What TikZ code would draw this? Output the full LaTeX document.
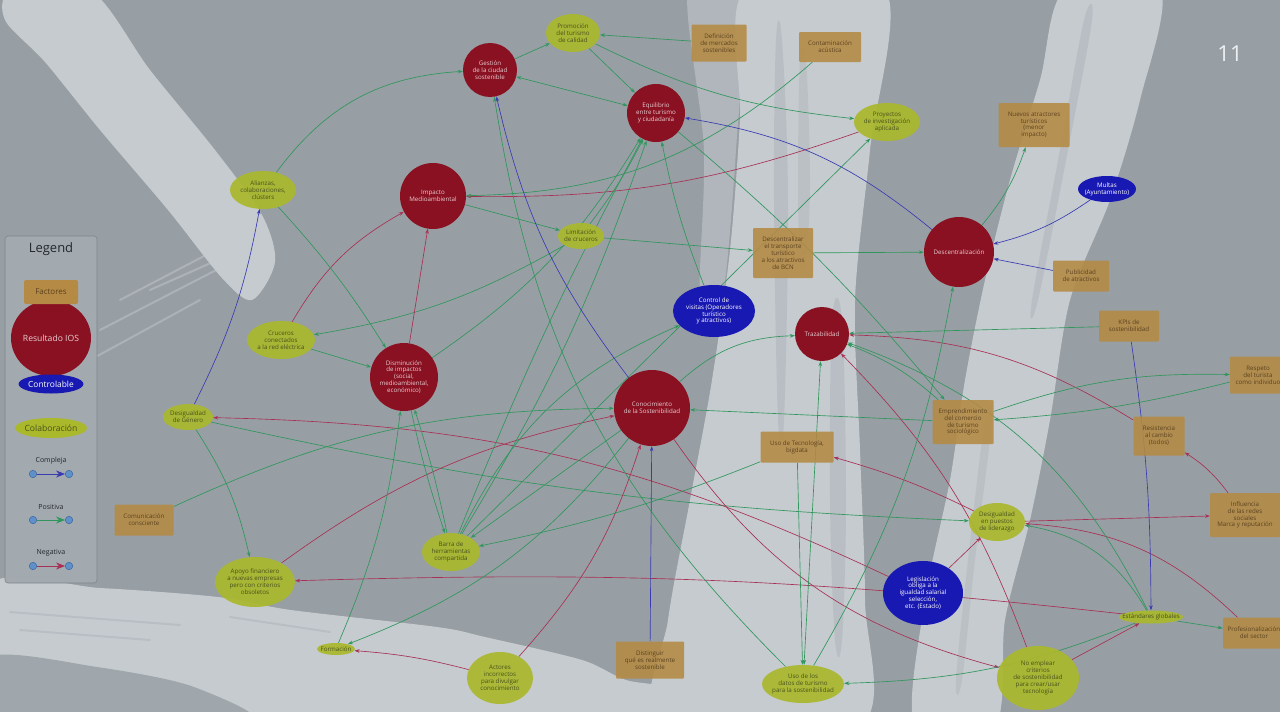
\documentclass[tikz,border=0pt]{standalone}
\usepackage{fontspec}
\setmainfont{Open Sans}
\usetikzlibrary{shapes.geometric,arrows.meta}
\pgfdeclarelayer{bgl}
\pgfdeclarelayer{edl}
\pgfsetlayers{bgl,edl,main}
\definecolor{bgc}{RGB}{152,159,164}
\definecolor{bgl2}{RGB}{160,167,172}
\definecolor{stk}{RGB}{197,203,207}
\definecolor{stkd}{RGB}{176,182,187}
\definecolor{resc}{RGB}{137,17,33}
\definecolor{restxt}{RGB}{232,205,210}
\definecolor{colc}{RGB}{170,184,44}
\definecolor{coltxt}{RGB}{72,82,28}
\definecolor{ctlc}{RGB}{24,24,178}
\definecolor{facc}{RGB}{180,138,68}
\definecolor{factxt}{RGB}{92,66,30}
\definecolor{posc}{RGB}{48,150,92}
\definecolor{negc}{RGB}{168,48,84}
\definecolor{cpxc}{RGB}{58,58,178}
\definecolor{legc}{RGB}{163,170,175}
\definecolor{legd}{RGB}{128,135,140}
\definecolor{dotc}{RGB}{95,145,200}
\definecolor{dotd}{RGB}{60,100,160}
\newcommand\ndfnt{\fontsize{6.2}{6.9}\selectfont}
\begin{document}
\begin{tikzpicture}[x=1pt,y=1pt,
  every node/.style={align=center, inner sep=0pt, font=\ndfnt},
  nres/.style={circle, fill=resc, text=restxt, inner sep=-4pt},
  ncol/.style={ellipse, fill=colc, fill opacity=0.92, text opacity=1, text=coltxt, inner xsep=-8pt, inner ysep=-4pt},
  nctl/.style={ellipse, fill=ctlc, text=white, inner xsep=-8pt, inner ysep=-4pt},
  nfac/.style={rectangle, fill=facc, fill opacity=0.88, text opacity=1, text=factxt, rounded corners=1pt},
  mytip/.style={-{Stealth[length=5pt,width=3.6pt]}},
  posl/.style={draw=posc, line width=0.65pt, mytip},
  negl/.style={draw=negc, line width=0.65pt, mytip},
  cpxl/.style={draw=cpxc, line width=0.65pt, mytip},
  twoway/.style={{Stealth[length=5pt,width=3.6pt]}-{Stealth[length=5pt,width=3.6pt]}},
  legtip/.style={-{Stealth[length=9pt,width=7pt]}, line width=0.8pt},
  dotn/.style={circle, fill=dotc, draw=dotd, line width=0.5pt, minimum size=7.5pt}
]
\useasboundingbox (0,0) rectangle (1280,-712);

\begin{pgfonlayer}{bgl}
\fill[bgc] (0,0) rectangle (1280,-712);
% top-left brush stroke
\fill[stk] plot[smooth cycle, tension=0.5] coordinates {(12,10) (90,10) (150,-70) (215,-150) (262,-215) (275,-262) (252,-300) (222,-278) (168,-210) (100,-130) (45,-62) (5,-20)};
\foreach \a/\b/\c/\d in {100/-330/255/-250, 120/-300/250/-232, 90/-360/200/-300, 150/-290/240/-250}
  \draw[stk, line width=2pt, opacity=0.45, line cap=round] (\a,\b) -- (\c,\d);
% bottom band
\fill[stk] plot[smooth cycle, tension=0.5] coordinates {(-10,-585) (100,-588) (218,-597) (291,-610) (437,-627) (485,-637) (582,-660) (626,-680) (680,-690) (720,-725) (-10,-725)};
\fill[bgl2] plot[smooth cycle, tension=0.5] coordinates {(-10,-657) (97,-667) (194,-687) (250,-725) (-10,-725)};
\foreach \a/\b/\c/\d in {10/-612/180/-625, 20/-630/150/-640, 230/-617/330/-632}
  \draw[stkd, line width=2pt, opacity=0.6, line cap=round] (\a,\b) -- (\c,\d);
% centre stroke
\fill[stkd] plot[smooth cycle, tension=0.5] coordinates {(688,10) (742,10) (736,-150) (722,-300) (700,-300) (704,-150)};
\fill[stk] plot[smooth cycle, tension=0.5] coordinates {(745,10) (885,10) (870,-150) (855,-300) (860,-450) (865,-600) (860,-725) (660,-725) (668,-620) (690,-500) (712,-380) (730,-250) (740,-120)};
\fill[stkd, opacity=0.6] plot[smooth cycle, tension=0.6] coordinates {(776,-40) (782,-40) (788,-200) (784,-420) (778,-420) (774,-200)};
\fill[stkd, opacity=0.6] plot[smooth cycle, tension=0.6] coordinates {(832,-320) (842,-320) (846,-500) (842,-640) (835,-640) (830,-500)};
\fill[stkd, opacity=0.5] plot[smooth cycle, tension=0.6] coordinates {(800,-60) (806,-60) (810,-180) (806,-260) (800,-260) (798,-180)};
% right stroke
\fill[stk] plot[smooth cycle, tension=0.5] coordinates {(1065,10) (1160,10) (1140,-100) (1110,-200) (1070,-300) (1050,-420) (1030,-520) (1005,-620) (995,-725) (915,-725) (925,-600) (950,-480) (965,-380) (985,-280) (1010,-180) (1040,-80)};
\fill[stkd, opacity=0.6] plot[smooth cycle, tension=0.6] coordinates {(1084,-20) (1092,-20) (1068,-150) (1038,-300) (1032,-300) (1060,-150)};
\fill[stkd, opacity=0.5] plot[smooth cycle, tension=0.6] coordinates {(985,-420) (992,-420) (975,-560) (962,-680) (956,-680) (968,-560)};
\end{pgfonlayer}

% ---------- legend ----------
\node[draw=legd, fill=legc, rounded corners=3pt, minimum width=92pt, minimum height=347pt, line width=0.6pt] (legbox) at (51,-409.5) {};
\node[text={rgb,255:red,35;green,40;blue,45}, font=\fontsize{13}{15}\selectfont] (legtitle) at (51,-249) {Legend};
\node[ellipse, fill=resc, minimum width=80pt, minimum height=76pt, text=restxt, font=\fontsize{8.6}{10}\selectfont] (legres) at (51,-338) {\makebox[40pt]{Resultado IOS}};
\node[rectangle, fill=facc, rounded corners=2pt, minimum width=54pt, minimum height=24pt, text=factxt, font=\fontsize{8}{9}\selectfont] (legfac) at (51,-292) {Factores};
\node[ellipse, fill=ctlc, minimum width=65pt, minimum height=19pt, text=white, font=\fontsize{8.4}{9}\selectfont] (legctl) at (51,-384) {\makebox[40pt]{Controlable}};
\node[ellipse, fill=colc, minimum width=72pt, minimum height=20pt, text=coltxt, font=\fontsize{8.6}{9}\selectfont] (legcol) at (51,-428) {\makebox[40pt]{Colaboración}};
\node[text={rgb,255:red,35;green,40;blue,45}, font=\fontsize{7}{8}\selectfont] (legcpx) at (51,-461) {Compleja};
\node[text={rgb,255:red,35;green,40;blue,45}, font=\fontsize{7}{8}\selectfont] (legpos) at (51,-507) {Positiva};
\node[text={rgb,255:red,35;green,40;blue,45}, font=\fontsize{7}{8}\selectfont] (legneg) at (51,-553) {Negativa};
\node[dotn] (ca) at (33,-474) {}; \node[dotn] (cb) at (69,-474) {};
\node[dotn] (pa) at (33,-520) {}; \node[dotn] (pb) at (69,-520) {};
\node[dotn] (na) at (33,-566) {}; \node[dotn] (nb) at (69,-566) {};
\draw[legtip, draw=cpxc] (ca) -- (cb);
\draw[legtip, draw=posc] (pa) -- (pb);
\draw[legtip, draw=negc] (na) -- (nb);

\node[text={rgb,255:red,238;green,240;blue,242}, font=\fontsize{22}{24}\selectfont] (pgnum) at (1230,-54) {11};

% ---------- result nodes ----------
\node[nres, minimum size=54pt] (gest) at (490,-70) {Gestión\\de la ciudad\\sostenible};
\node[nres, minimum size=58pt] (equi) at (656,-113) {Equilibrio\\entre turismo\\y ciudadanía};
\node[nres, minimum size=66pt] (impa) at (433,-196) {Impacto\\Medioambiental};
\node[nres, minimum size=68pt] (dism) at (404,-377) {Disminución\\de impactos\\(social,\\medioambiental,\\económico)};
\node[nres, minimum size=76pt] (conoc) at (652,-408) {Conocimiento\\de la Sostenibilidad};
\node[nres, minimum size=54pt] (traz) at (822,-334) {Trazabilidad};
\node[nres, minimum size=70pt] (descc) at (959,-252) {Descentralización};

% ---------- controllable ----------
\node[nctl, minimum width=82pt, minimum height=52pt] (cont) at (714,-311) {Control de\\visitas (Operadores\\turístico\\y atractivos)};
\node[nctl, minimum width=58pt, minimum height=26pt] (multas) at (1107,-189) {Multas\\(Ayuntamiento)};
\node[nctl, minimum width=80pt, minimum height=64pt] (legis) at (923,-593) {Legislación\\obliga a la\\igualdad salarial\\selección,\\etc. (Estado)};

% ---------- collaboration ----------
\node[ncol, minimum width=54pt, minimum height=38pt] (prom) at (573,-33) {Promoción\\del turismo\\de calidad};
\node[ncol, minimum width=66pt, minimum height=38pt] (proy) at (887,-122) {Proyectos\\de investigación\\aplicada};
\node[ncol, minimum width=66pt, minimum height=38pt] (alian) at (263,-190) {Alianzas,\\colaboraciones,\\clústers};
\node[ncol, minimum width=46pt, minimum height=26pt] (limi) at (581,-236) {Limitación\\de cruceros};
\node[ncol, minimum width=68pt, minimum height=38pt] (cruc) at (281,-340) {Cruceros\\conectados\\a la red eléctrica};
\node[ncol, minimum width=50pt, minimum height=26pt] (desigg) at (188,-417) {Desigualdad\\de Género};
\node[ncol, minimum width=80pt, minimum height=50pt] (apoyo) at (255,-582) {Apoyo financiero\\a nuevas empresas\\pero con criterios\\obsoletos};
\node[ncol, minimum width=58pt, minimum height=38pt] (barra) at (451,-552) {Barra de\\herramientas\\compartida};
\node[ncol, minimum width=38pt, minimum height=12pt] (form) at (336,-649) {Formación};
\node[ncol, minimum width=66pt, minimum height=52pt] (actor) at (500,-678) {Actores\\incorrectos\\para divulgar\\conocimiento};
\node[ncol, minimum width=82pt, minimum height=38pt] (usod) at (803,-684) {Uso de los\\datos de turismo\\para la sostenibilidad};
\node[ncol, minimum width=56pt, minimum height=38pt] (desigp) at (997,-522) {Desigualdad\\en puestos\\de liderazgo};
\node[ncol, minimum width=64pt, minimum height=13pt] (estan) at (1151,-617) {\makebox[30pt]{Estándares globales}};
\node[ncol, minimum width=82pt, minimum height=64pt] (noemp) at (1038,-678) {No emplear\\criterios\\de sostenibilidad\\para crear/usar\\tecnología};

% ---------- factors ----------
\node[nfac, minimum width=55pt, minimum height=37pt] (defi) at (719,-43) {Definición\\de mercados\\sostenibles};
\node[nfac, minimum width=62pt, minimum height=30pt] (conta) at (830,-47) {Contaminación\\acústica};
\node[nfac, minimum width=71pt, minimum height=44pt] (nuevos) at (1034,-125) {Nuevos atractores\\turísticos\\(menor\\impacto)};
\node[nfac, minimum width=60pt, minimum height=50pt] (descz) at (783,-253) {Descentralizar\\el transporte\\turístico\\a los atractivos\\de BCN};
\node[nfac, minimum width=56pt, minimum height=31pt] (publi) at (1081,-276) {Publicidad\\de atractivos};
\node[nfac, minimum width=60pt, minimum height=31pt] (kpi) at (1129,-326) {KPIs de\\sostenibilidad};
\node[nfac, minimum width=56pt, minimum height=37pt] (resp) at (1258,-375) {Respeto\\del turista\\como individuo};
\node[nfac, minimum width=61pt, minimum height=44pt] (emp) at (963,-422) {Emprendimiento\\del comercio\\de turismo\\sociológico};
\node[nfac, minimum width=51pt, minimum height=39pt] (resis) at (1159,-436) {Resistencia\\al cambio\\(todos)};
\node[nfac, minimum width=73pt, minimum height=31pt] (usot) at (797,-447) {Uso de Tecnología,\\bigdata};
\node[nfac, minimum width=59pt, minimum height=31pt] (comun) at (144,-520) {Comunicación\\consciente};
\node[nfac, minimum width=70pt, minimum height=44pt] (influ) at (1245,-515) {Influencia\\de las redes\\sociales\\Marca y reputación};
\node[nfac, minimum width=62pt, minimum height=31pt] (profe) at (1254,-633) {Profesionalización\\del sector};
\node[nfac, minimum width=68pt, minimum height=37pt] (dist) at (650,-660) {Distinguir\\qué es realmente\\sostenible};

% ---------- connectors ----------
\begin{pgfonlayer}{edl}
\draw[posl] (gest) to (prom);
\draw[posl] (alian) to[bend left=25] (gest);
\draw[posl, twoway] (gest) to (equi);
\draw[posl] (defi) to (prom);
\draw[posl] (prom) to (equi);
\draw[posl] (prom) to[bend right=10] (proy);
\draw[negl] (proy) to[bend left=10] (impa);
\draw[posl] (conta) to[bend left=20] (impa);
\draw[cpxl] (descc) to[bend right=15] (equi);
\draw[posl] (descc) to[bend right=10] (nuevos);
\draw[cpxl] (multas) to[bend left=10] (descc);
\draw[cpxl] (publi) to (descc);
\draw[posl] (descz) to (descc);
\draw[posl] (limi) to (descz);
\draw[posl] (impa) to (limi);
\draw[posl] (limi) to[bend right=5] (equi);
\draw[posl] (limi) to[bend left=10] (cruc);
\draw[posl] (cruc) to (dism);
\draw[negl] (cruc) to[bend left=15] (impa);
\draw[negl] (dism) to (impa);
\draw[posl] (alian) to[bend left=5] (dism);
\draw[cpxl] (desigg) to[bend right=8] (alian);
\draw[posl] (desigg) to[bend left=10] (apoyo);
\draw[posl] (desigg) to[bend right=5] (desigp);
\draw[negl] (legis) to[bend right=12] (desigg);
\draw[negl] (estan) to[bend right=4] (apoyo);
\draw[negl] (apoyo) to[bend left=12] (conoc);
\draw[posl] (comun) to[bend left=12] (conoc);
\draw[cpxl] (dist) to (conoc);
\draw[negl] (actor) to[bend right=12] (conoc);
\draw[negl] (actor) to[bend right=5] (form);
\draw[posl] (conoc) to[bend left=15] (form);
\draw[posl] (form) to[bend right=8] (dism);
\draw[posl] (barra) to[bend right=3] (dism);
\draw[posl] (dism) to[bend right=3] (barra);
\draw[posl] (barra) to[bend right=6] (equi);
\draw[posl] (barra) to[bend left=3] (equi);
\draw[posl] (barra) to[bend left=20] (cont);
\draw[posl] (barra) to (proy);
\draw[posl] (dism) to[bend right=12] (equi);
\draw[posl] (cont) to[bend left=5] (equi);
\draw[posl] (usot) to[bend left=5] (barra);
\draw[posl] (conoc) to (barra);
\draw[cpxl] (conoc) to[bend left=12] (gest);
\draw[posl] (usod) to[bend left=18] (gest);
\draw[posl] (conoc) to[bend left=20] (traz);
\draw[posl] (emp) to (conoc);
\draw[negl] (conoc) to[bend right=20] (noemp);
\draw[negl] (noemp) to[bend right=12] (traz);
\draw[negl] (desigp) to[bend right=5] (usot);
\draw[negl] (legis) to (desigp);
\draw[negl] (desigp) to (influ);
\draw[negl] (profe) to[bend right=20] (desigp);
\draw[posl] (estan) to[bend right=25] (desigp);
\draw[negl] (influ) to[bend right=10] (resis);
\draw[negl] (resis) to[bend right=15] (traz);
\draw[posl] (kpi) to (traz);
\draw[cpxl] (kpi) to[bend left=4] (estan);
\draw[posl] (emp) to[bend right=10] (traz);
\draw[posl] (estan) to[bend right=22] (traz);
\draw[posl] (equi) to[bend left=5] (emp);
\draw[posl] (usod) to[bend right=10] (descc);
\draw[posl] (emp) to[bend left=10] (resp);
\draw[posl] (resp) to[bend left=5] (emp);
\draw[posl] (estan) to[bend left=10] (usod);
\draw[negl] (noemp) to (estan);
\draw[posl] (estan) to (profe);
\draw[posl] (usot) to (usod);
\draw[posl, twoway] (traz) to (usod);
\end{pgfonlayer}
\end{tikzpicture}
\end{document}
